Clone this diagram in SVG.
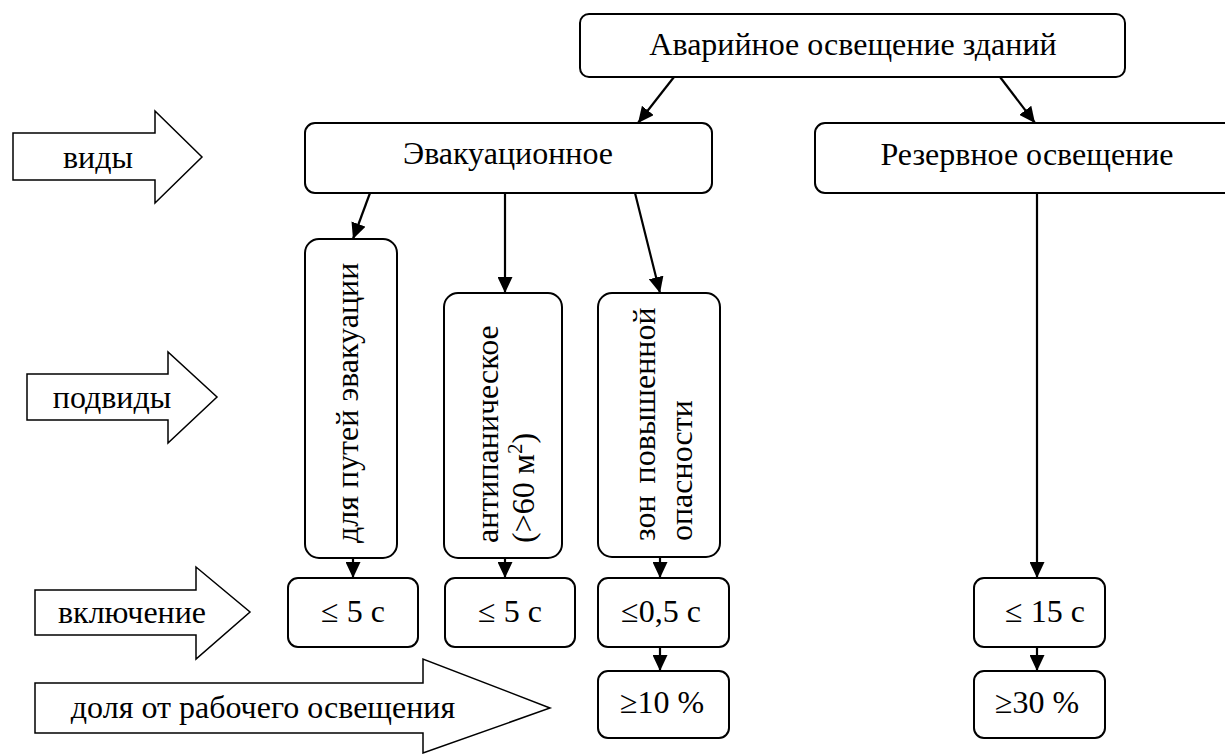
<svg xmlns="http://www.w3.org/2000/svg" width="1225" height="754" viewBox="0 0 1225 754">
<style>
  .box { fill: #fff; stroke: #000; stroke-width: 2; }
  .blk { fill: #fff; stroke: #000; stroke-width: 1.5; }
  text { font-family: 'Liberation Serif', 'DejaVu Serif', serif; font-size: 32px; fill: #000; }
  .c { text-anchor: middle; }
  .con { stroke: #000; stroke-width: 2.2; fill: none; marker-end: url(#ah); }
</style>
<defs>
  <marker id="ah" markerUnits="userSpaceOnUse" markerWidth="17" markerHeight="15" refX="16" refY="7.5" orient="auto">
    <path d="M0,0 L16,7.5 L0,15 z" fill="#000"/>
  </marker>
</defs>
<rect width="1225" height="754" fill="#fff"/>

<g id="labels">
  <g id="lbl-vidy">
    <polygon class="blk" points="13,133 155,133 155,111 202,157 155,203 155,180 13,180"/>
    <text class="c" x="98" y="168">виды</text>
  </g>
  <g id="lbl-podvidy">
    <polygon class="blk" points="27,374 168,374 168,352 217,397 168,443 168,420 27,420"/>
    <text class="c" x="112" y="408">подвиды</text>
  </g>
  <g id="lbl-vkl">
    <polygon class="blk" points="35,590 196,590 196,567 250,612 196,659 196,635 35,635"/>
    <text class="c" x="132" y="623">включение</text>
  </g>
  <g id="lbl-dolya">
    <polygon class="blk" points="35,683 423,683 423,659 550,708 423,753 423,733 35,733"/>
    <text class="c" x="263" y="718">доля от рабочего освещения</text>
  </g>
</g>

<g id="connectors">
  <line class="con" x1="674" y1="77" x2="638" y2="123"/>
  <line class="con" x1="1000" y1="77" x2="1035" y2="123"/>
  <line class="con" x1="370" y1="193" x2="353" y2="239"/>
  <line class="con" x1="505" y1="193" x2="505" y2="293"/>
  <line class="con" x1="635" y1="193" x2="660" y2="293"/>
  <line class="con" x1="1037" y1="193" x2="1037" y2="578"/>
  <line class="con" x1="353" y1="558" x2="353" y2="578"/>
  <line class="con" x1="505" y1="558" x2="505" y2="578"/>
  <line class="con" x1="660" y1="557" x2="660" y2="578"/>
  <line class="con" x1="660" y1="647" x2="660" y2="671"/>
  <line class="con" x1="1037" y1="647" x2="1037" y2="671"/>
</g>

<g id="n-root">
  <rect class="box" x="580" y="14" width="545" height="63" rx="9"/>
  <text class="c" x="853" y="55">Аварийное освещение зданий</text>
</g>
<g id="n-evak">
  <rect class="box" x="305" y="123" width="407" height="70" rx="10"/>
  <text class="c" x="508" y="164">Эвакуационное</text>
</g>
<g id="n-rezerv">
  <rect class="box" x="815" y="123" width="430" height="70" rx="10"/>
  <text class="c" x="1027" y="165">Резервное освещение</text>
</g>
<g id="n-puti">
  <rect class="box" x="305" y="239" width="92" height="319" rx="14"/>
  <text transform="translate(358,543) rotate(-90)">для путей эвакуации</text>
</g>
<g id="n-anti">
  <rect class="box" x="444" y="293" width="118" height="265" rx="14"/>
  <text transform="translate(498,543) rotate(-90)">антипаническое</text>
  <text transform="translate(534,543) rotate(-90)">(&gt;60 м<tspan font-size="21" baseline-shift="super">2</tspan>)</text>
</g>
<g id="n-zon">
  <rect class="box" x="598" y="293" width="122" height="264" rx="14"/>
  <text transform="translate(655,541) rotate(-90)" word-spacing="4">зон повышенной</text>
  <text transform="translate(692,541) rotate(-90)">опасности</text>
</g>
<g id="n-t1">
  <rect class="box" x="288" y="578" width="130" height="69" rx="10"/>
  <text class="c" x="353" y="622">≤ 5 с</text>
</g>
<g id="n-t2">
  <rect class="box" x="445" y="578" width="130" height="69" rx="10"/>
  <text class="c" x="510" y="622">≤ 5 с</text>
</g>
<g id="n-t3">
  <rect class="box" x="598" y="578" width="131" height="69" rx="10"/>
  <text class="c" x="661" y="622">≤0,5 с</text>
</g>
<g id="n-t4">
  <rect class="box" x="974" y="578" width="131" height="69" rx="10"/>
  <text class="c" x="1045" y="622">≤ 15 с</text>
</g>
<g id="n-p1">
  <rect class="box" x="598" y="671" width="131" height="67" rx="10"/>
  <text class="c" x="662" y="713">≥10 %</text>
</g>
<g id="n-p2">
  <rect class="box" x="974" y="671" width="131" height="67" rx="10"/>
  <text class="c" x="1037" y="713">≥30 %</text>
</g>
</svg>
